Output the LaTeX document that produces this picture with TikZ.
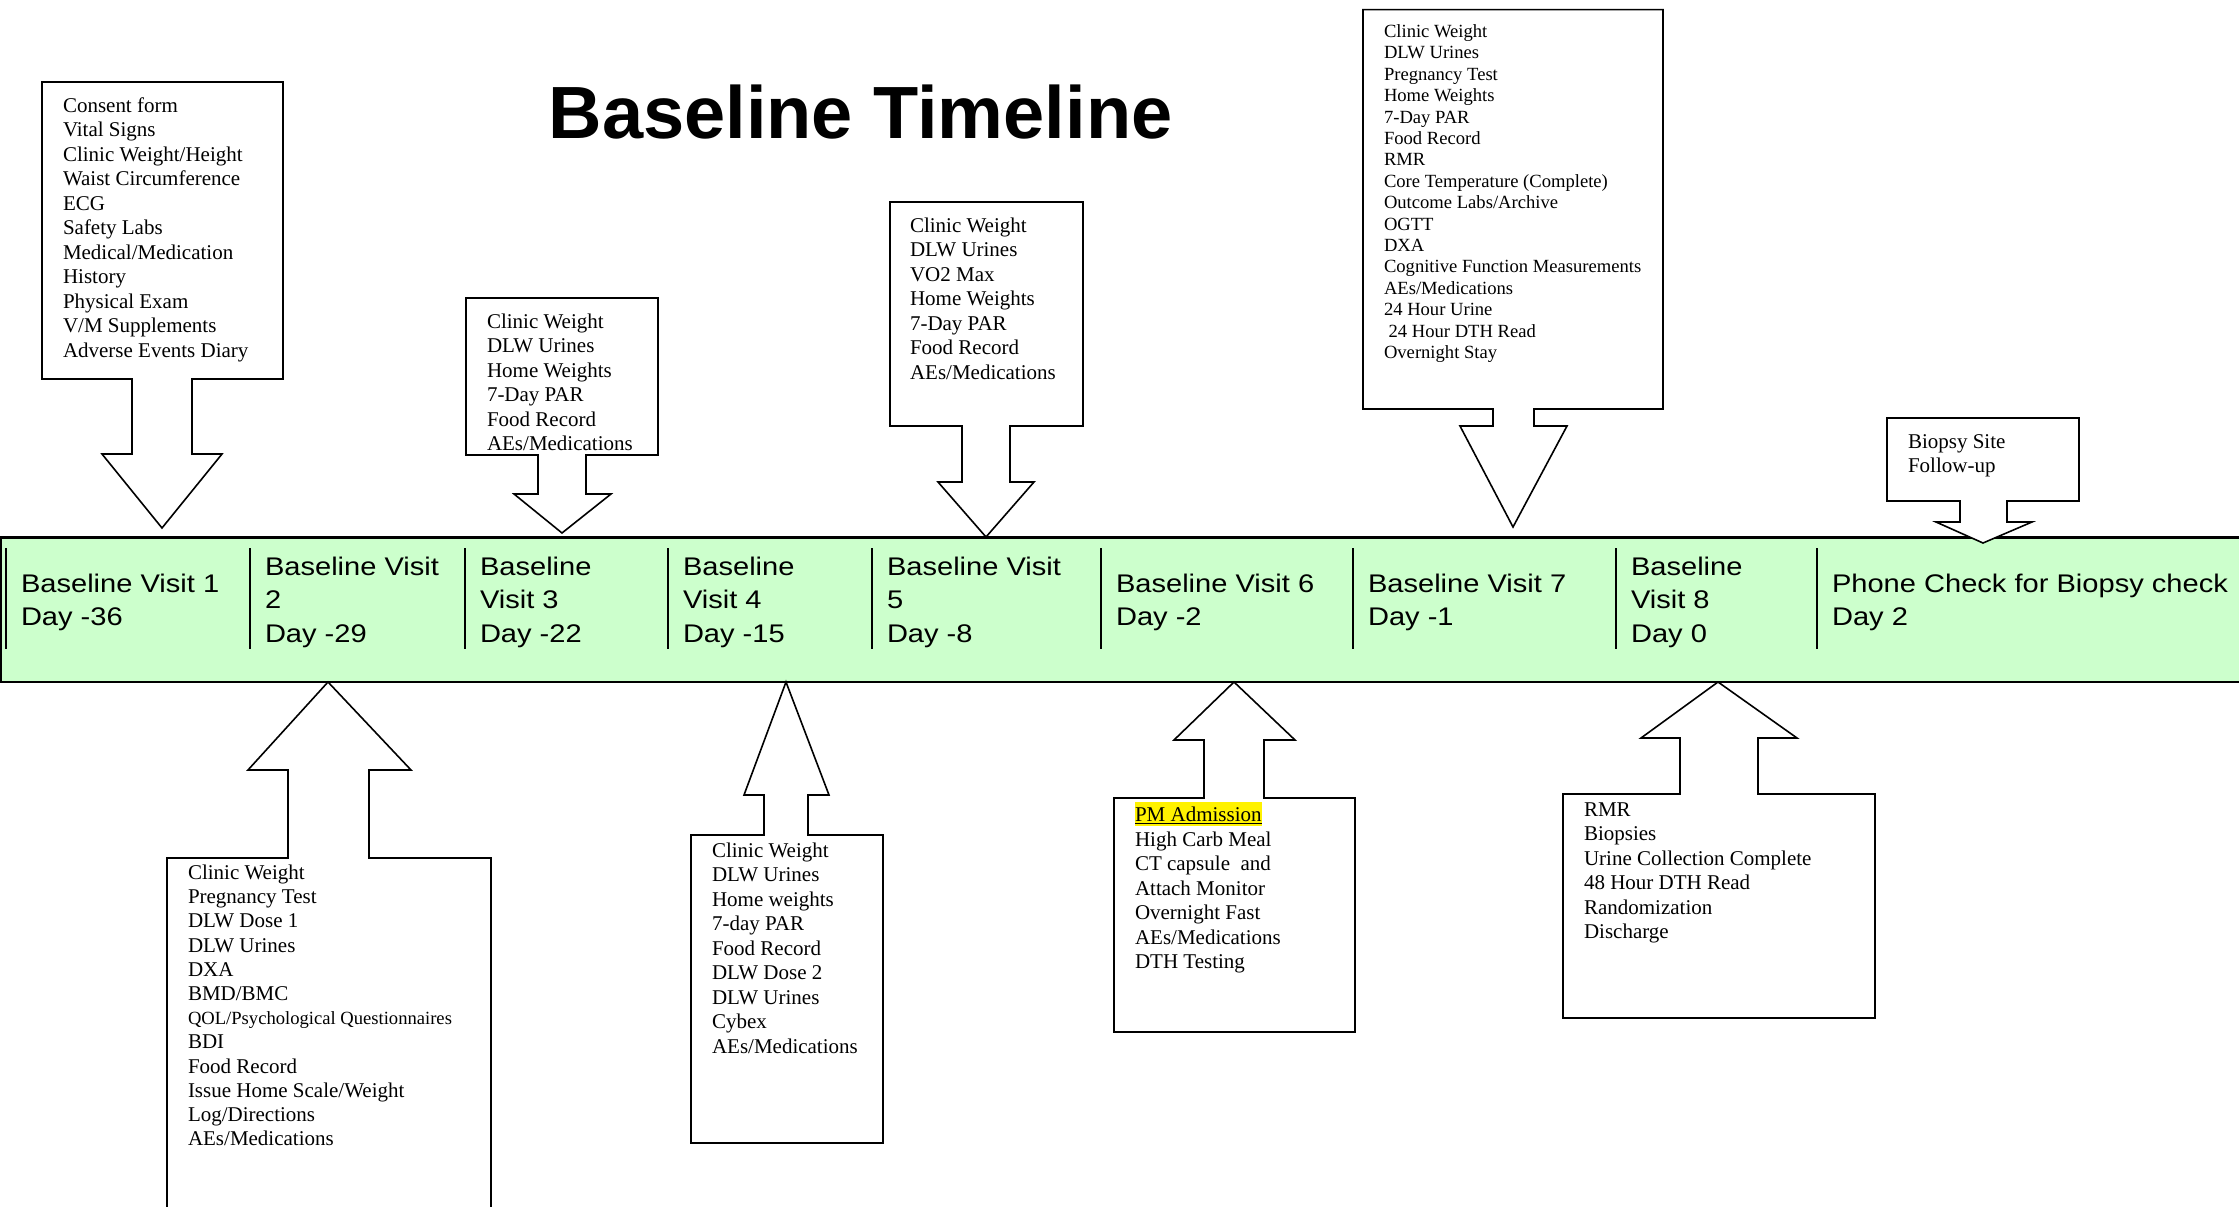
\documentclass[tikz,border=0pt]{standalone}
\usepackage{fontspec}
\setmainfont{Liberation Serif}
\newfontfamily\barfont[FakeStretch=1.14]{Liberation Sans}
\newfontfamily\titlefamily{Liberation Sans}
\definecolor{barGreen}{HTML}{CCFFCC}
\tikzset{
  callout/.style={draw=black, fill=white, line width=1.6pt, line join=miter},
  listtext/.style={anchor=north west, inner sep=0pt, outer sep=0pt, align=left, font=\fontsize{21}{24.5}\selectfont},
  smalllist/.style={anchor=north west, inner sep=0pt, outer sep=0pt, align=left, font=\fontsize{18.6}{21.4}\selectfont},
  celltext/.style={anchor=north west, inner sep=0pt, outer sep=0pt, align=left, font=\barfont\fontsize{25.5}{33.5}\selectfont},
  timebar/.style={draw=black, fill=barGreen, line width=2.4pt},
  cellsep/.style={draw=black, line width=1.6pt}
}
\begin{document}
\begin{tikzpicture}[x=1pt,y=-1pt]
\useasboundingbox (0,0) rectangle (2239,1207);
\fill[white] (0,0) rectangle (2239,1207);

% title
\node[anchor=base, inner sep=0pt, font=\titlefamily\bfseries\fontsize{74}{80}\selectfont] (title) at (860.5,138) {Baseline Timeline};

% timeline bar
\path[timebar] (0.8,537.5) rectangle (2260,682);
\foreach \sx in {6,250,465,668,872,1101,1353,1616,1817}
  \draw[cellsep] (\sx,548) -- (\sx,649);

\node[celltext] (v1) at (21,568.55) {\strut Baseline Visit 1\\Day -36};
\node[celltext] (v2) at (265,551.55) {\strut Baseline Visit\\2\\Day -29};
\node[celltext] (v3) at (480,551.55) {\strut Baseline\\Visit 3\\Day -22};
\node[celltext] (v4) at (683,551.55) {\strut Baseline\\Visit 4\\Day -15};
\node[celltext] (v5) at (887,551.55) {\strut Baseline Visit\\5\\Day -8};
\node[celltext] (v6) at (1116,568.55) {\strut Baseline Visit 6\\Day -2};
\node[celltext] (v7) at (1368,568.55) {\strut Baseline Visit 7\\Day -1};
\node[celltext] (v8) at (1631,551.55) {\strut Baseline\\Visit 8\\Day 0};
\node[celltext] (ph) at (1832,568.55) {\strut Phone Check for Biopsy check\\Day 2};

% callouts above the bar (pointing down)
\path[callout] (42,82) -- (283,82) -- (283,379) -- (192,379) -- (192,454) -- (222,454) -- (162,528) -- (102,454) -- (132,454) -- (132,379) -- (42,379) -- cycle;
\path[callout] (466,298) -- (658,298) -- (658,455) -- (586,455) -- (586,494) -- (611,494) -- (562,533) -- (514,494) -- (538,494) -- (538,455) -- (466,455) -- cycle;
\path[callout] (890,202) -- (1083,202) -- (1083,426) -- (1010,426) -- (1010,482) -- (1034,482) -- (986,537) -- (938,482) -- (962,482) -- (962,426) -- (890,426) -- cycle;
\path[callout] (1363,9.6) -- (1663,9.6) -- (1663,409) -- (1534,409) -- (1534,426) -- (1567,426) -- (1513,527) -- (1460,426) -- (1493,426) -- (1493,409) -- (1363,409) -- cycle;
\path[callout] (1887,418) -- (2079,418) -- (2079,501) -- (2007,501) -- (2007,522) -- (2032,522) -- (1983,543) -- (1936,522) -- (1960,522) -- (1960,501) -- (1887,501) -- cycle;

% callouts below the bar (pointing up)
\path[callout] (328,682) -- (411,770) -- (369,770) -- (369,858) -- (491,858) -- (491,1230) -- (167,1230) -- (167,858) -- (288,858) -- (288,770) -- (248,770) -- cycle;
\path[callout] (786,682) -- (829,795) -- (808,795) -- (808,835) -- (883,835) -- (883,1143) -- (691,1143) -- (691,835) -- (764,835) -- (764,795) -- (744,795) -- cycle;
\path[callout] (1234,682) -- (1295,740) -- (1264,740) -- (1264,798) -- (1355,798) -- (1355,1032) -- (1114,1032) -- (1114,798) -- (1204,798) -- (1204,740) -- (1174,740) -- cycle;
\path[callout] (1718,682) -- (1797,738) -- (1758,738) -- (1758,794) -- (1875,794) -- (1875,1018) -- (1563,1018) -- (1563,794) -- (1680,794) -- (1680,738) -- (1641,738) -- cycle;

% list texts
\node[listtext] (b1) at (63,94.85) {\strut Consent form\\Vital Signs\\Clinic Weight/Height\\Waist Circumference\\ECG\\Safety Labs\\Medical/Medication\\History\\Physical Exam\\V/M Supplements\\Adverse Events Diary};
\node[listtext] (b3) at (487,310.85) {\strut Clinic Weight\\DLW Urines\\Home Weights\\7-Day PAR\\Food Record\\AEs/Medications};
\node[listtext] (b5) at (910,214.85) {\strut Clinic Weight\\DLW Urines\\VO2 Max\\Home Weights\\7-Day PAR\\Food Record\\AEs/Medications};
\node[smalllist] (b7) at (1384,22.5) {\strut Clinic Weight\\DLW Urines\\Pregnancy Test\\Home Weights\\7-Day PAR\\Food Record\\RMR\\Core Temperature (Complete)\\Outcome Labs/Archive\\OGTT\\DXA\\Cognitive Function Measurements\\AEs/Medications\\24 Hour Urine\\\ 24 Hour DTH Read\\Overnight Stay};
\node[listtext] (bp) at (1908,430.85) {\strut Biopsy Site\\Follow-up};

\node[listtext, font=\fontsize{21}{24.2}\selectfont] (b2) at (188,862.6) {\strut Clinic Weight\\Pregnancy Test\\DLW Dose 1\\DLW Urines\\DXA\\BMD/BMC\\{\fontsize{18.6}{24.2}\selectfont QOL/Psychological Questionnaires}\\BDI\\Food Record\\Issue Home Scale/Weight\\Log/Directions\\AEs/Medications};
\node[listtext] (b4) at (712,839.85) {\strut Clinic Weight\\DLW Urines\\Home weights\\7-day PAR\\Food Record\\DLW Dose 2\\DLW Urines\\Cybex\\AEs/Medications};
\node[listtext] (b6) at (1135,801.85) {\strut{\setlength{\fboxsep}{0pt}\colorbox{yellow}{\rule[-4pt]{0pt}{24pt}\underline{PM Admission}}}\\High Carb Meal\\CT capsule~ and\\Attach Monitor\\Overnight Fast\\AEs/Medications\\DTH Testing};
\node[listtext] (b8) at (1584,798.85) {\strut RMR\\Biopsies\\Urine Collection Complete\\48 Hour DTH Read\\Randomization\\Discharge};
\end{tikzpicture}
\end{document}
